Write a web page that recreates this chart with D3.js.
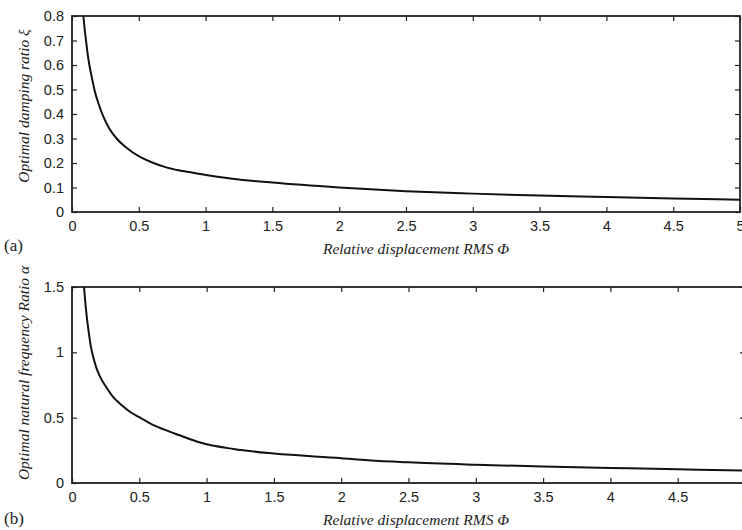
<!DOCTYPE html>
<html lang="en">
<head>
<meta charset="UTF-8">
<title>Optimal damping and frequency ratio</title>
<style>
  body { margin: 0; background: #fff; }
  svg { display: block; }
</style>
</head>
<body>
<div id="chart"></div>
<script src="https://d3js.org/d3.v7.min.js"></script>
<script>
// panel (a): relative displacement RMS vs optimal damping ratio
const phiA = [0.085, 0.095, 0.105, 0.117, 0.13, 0.15, 0.172, 0.2, 0.234, 0.28, 0.334, 0.39, 0.45, 0.52, 0.61, 0.7, 0.8, 0.96, 1.2, 1.5, 2, 2.5, 3, 3.5, 4, 4.5, 5];
const zeta = [0.8, 0.745, 0.7, 0.645, 0.6, 0.545, 0.49, 0.44, 0.39, 0.34, 0.3, 0.27, 0.245, 0.222, 0.2, 0.183, 0.17, 0.155, 0.136, 0.12, 0.1, 0.085, 0.075, 0.067, 0.061, 0.055, 0.05];
// panel (b): relative displacement RMS vs optimal natural frequency ratio
const phiB = [0.089, 0.1, 0.11, 0.125, 0.14, 0.16, 0.18, 0.21, 0.25, 0.3, 0.37, 0.43, 0.506, 0.59, 0.68, 0.8, 0.952, 1.2, 1.5, 2, 2.2, 2.5, 3, 3.5, 4, 4.5, 5];
const alpha = [1.5, 1.37, 1.27, 1.15, 1.045, 0.955, 0.885, 0.81, 0.74, 0.665, 0.595, 0.545, 0.5, 0.45, 0.41, 0.365, 0.31, 0.26, 0.225, 0.19, 0.174, 0.158, 0.14, 0.126, 0.115, 0.105, 0.096];

const xTicks = [0, 0.5, 1, 1.5, 2, 2.5, 3, 3.5, 4, 4.5, 5];
const zetaTicks = [0, 0.1, 0.2, 0.3, 0.4, 0.5, 0.6, 0.7, 0.8];
const alphaTicks = [0, 0.5, 1, 1.5];

const svg = d3.select("#chart").append("svg")
    .attr("width", 742)
    .attr("height", 530);

function panel(o) {
    var x = d3.scaleLinear().domain([0, 5]).range([o.left, o.right]);
    var y = d3.scaleLinear().domain(o.ydom).range([o.bottom, o.top]);
    var g = svg.append("g");

    var fmt = d => String(d);

    // bottom axis, ticks inward
    g.append("g")
        .attr("transform", "translate(0," + o.bottom + ")")
        .call(d3.axisBottom(x).tickValues(xTicks).tickFormat(fmt).tickSizeInner(-5).tickSizeOuter(0).tickPadding(9))
        .call(a => a.select(".domain").remove());
    // top ticks
    g.append("g")
        .attr("transform", "translate(0," + o.top + ")")
        .call(d3.axisTop(x).tickValues(xTicks).tickFormat("").tickSizeInner(-5).tickSizeOuter(0))
        .call(a => a.select(".domain").remove());
    // left axis
    g.append("g")
        .attr("transform", "translate(" + o.left + ",0)")
        .call(d3.axisLeft(y).tickValues(o.yticks).tickFormat(fmt).tickSizeInner(-5).tickSizeOuter(0).tickPadding(8))
        .call(a => a.select(".domain").remove());
    // right ticks
    g.append("g")
        .attr("transform", "translate(" + o.right + ",0)")
        .call(d3.axisRight(y).tickValues(o.yticks).tickFormat("").tickSizeInner(-5).tickSizeOuter(0))
        .call(a => a.select(".domain").remove());

    g.selectAll(".tick line").attr("stroke", "#222").attr("stroke-width", 1.2);
    g.selectAll(".tick text")
        .attr("font-family", "Liberation Sans, Arial, sans-serif")
        .attr("font-size", 14.5)
        .attr("fill", "#222");

    // box
    g.append("rect")
        .attr("x", o.left).attr("y", o.top)
        .attr("width", o.right - o.left).attr("height", o.bottom - o.top)
        .attr("fill", "none").attr("stroke", "#222").attr("stroke-width", 1.8);

    // curve
    var line = d3.line()
        .x((d, i) => x(o.xs[i]))
        .y(d => y(d))
        .curve(d3.curveMonotoneX);
    g.append("path")
        .datum(o.values)
        .attr("d", line)
        .attr("fill", "none")
        .attr("stroke", "#111")
        .attr("stroke-width", 2);

    // x label
    g.append("text")
        .attr("x", 416)
        .attr("y", o.bottom + 42)
        .attr("text-anchor", "middle")
        .attr("font-family", "Liberation Serif, Times New Roman, serif")
        .attr("font-style", "italic")
        .attr("font-size", 15.5)
        .attr("fill", "#222")
        .text("Relative displacement RMS \u03A6");

    // y label
    g.append("text")
        .attr("transform", "translate(" + o.ylabX + "," + o.ylabY + ") rotate(-90)")
        .attr("text-anchor", "middle")
        .attr("font-family", "Liberation Serif, Times New Roman, serif")
        .attr("font-style", "italic")
        .attr("font-size", 15.5)
        .attr("fill", "#222")
        .text(o.ylabel);

    // panel tag
    g.append("text")
        .attr("x", 4)
        .attr("y", o.tagY)
        .attr("font-family", "Liberation Serif, Times New Roman, serif")
        .attr("font-size", 17)
        .attr("fill", "#222")
        .text(o.tag);
}

panel({ left: 72, right: 740, top: 16, bottom: 212, ydom: [0, 0.8], yticks: zetaTicks,
        xs: phiA, values: zeta, ylabel: "Optimal damping ratio \u03BE", ylabX: 29, ylabY: 106, tag: "(a)", tagY: 251 });
panel({ left: 72, right: 745, top: 287, bottom: 483, ydom: [0, 1.5], yticks: alphaTicks,
        xs: phiB, values: alpha, ylabel: "Optimal natural frequency Ratio \u03B1", ylabX: 29, ylabY: 373, tag: "(b)", tagY: 524 });
</script>
</body>
</html>
